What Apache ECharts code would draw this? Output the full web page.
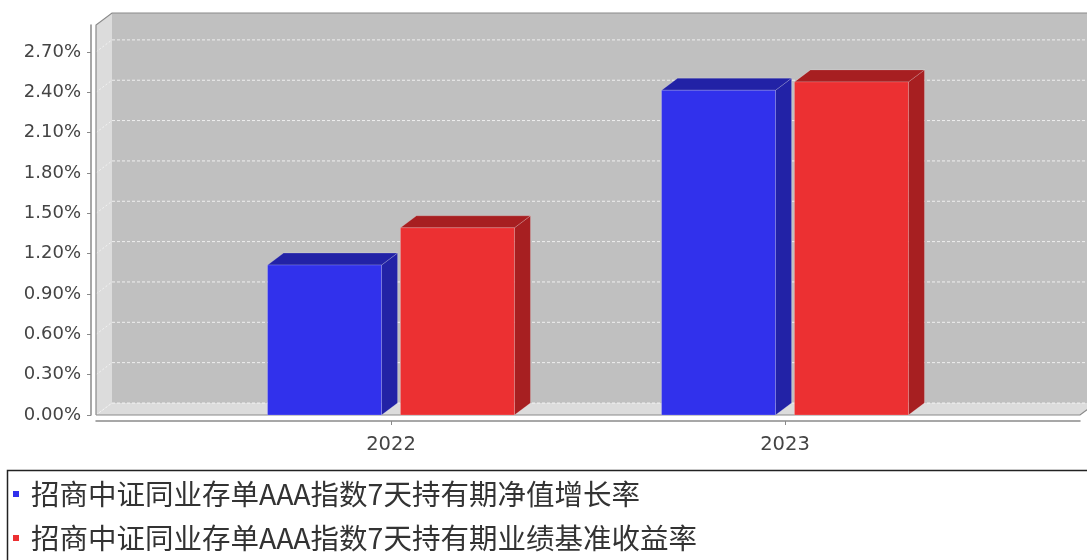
<!DOCTYPE html>
<html><head><meta charset="utf-8">
<script src="https://cdn.jsdelivr.net/npm/echarts@6/dist/echarts.min.js"></script>
<style>html,body{margin:0;padding:0;background:#fff}#c{width:1087px;height:560px}</style>
</head><body><div id="c"></div>
<script>
const categories = ['2022', '2023'];
const seriesNames = ['招商中证同业存单AAA指数7天持有期净值增长率', '招商中证同业存单AAA指数7天持有期业绩基准收益率'];
const navGrowth = [1.115, 2.415];
const benchmark = [1.392, 2.477];
const yTicks = [0, 0.3, 0.6, 0.9, 1.2, 1.5, 1.8, 2.1, 2.4, 2.7];
const yMax = 2.9;

const DX = 16, DY = 12;
const faceColors = [
  { front: '#3131EC', dark: '#2222A6' },
  { front: '#EC3032', dark: '#A71F21' }
];

function renderWalls(params, api) {
  const p00 = api.coord([0, 0]), p0m = api.coord([0, yMax]), p10 = api.coord([1, 0]);
  const L = p00[0], R = p10[0], B = p00[1], T = p0m[1];
  const ch = [];
  ch.push({ type: 'rect', shape: { x: L + DX, y: T - DY, width: R - L + 40, height: B - T }, style: { fill: '#C0C0C0' } });
  ch.push({ type: 'polygon', shape: { points: [[L, B], [L, T], [L + DX, T - DY], [L + DX, B - DY]] }, style: { fill: '#DCDCDC' } });
  ch.push({ type: 'polygon', shape: { points: [[L, B], [R, B], [R + DX, B - DY], [L + DX, B - DY]] }, style: { fill: '#DCDCDC' } });
  yTicks.forEach(v => {
    const y = api.coord([0, v])[1];
    ch.push({ type: 'line', shape: { x1: L + DX, y1: y - DY, x2: R + DX + 40, y2: y - DY }, style: { stroke: 'rgba(255,255,255,0.75)', lineWidth: 1, lineDash: [3, 2] } });
    ch.push({ type: 'line', shape: { x1: L, y1: y, x2: L + DX, y2: y - DY }, style: { stroke: 'rgba(255,255,255,0.6)', lineWidth: 1, lineDash: [2, 2] } });
  });
  ch.push({ type: 'polyline', shape: { points: [[L, B], [L, T], [L + DX, T - DY], [R + DX + 40, T - DY]] }, style: { stroke: '#8A8A8A', lineWidth: 1.2, fill: null } });
  ch.push({ type: 'polyline', shape: { points: [[L, B], [R, B], [R + DX, B - DY]] }, style: { stroke: '#8A8A8A', lineWidth: 1.2, fill: null } });
  return { type: 'group', children: ch };
}

function makeBarRender(sIdx) {
  return function (params, api) {
    const ci = api.value(0), val = api.value(1);
    const top = api.coord([ci, val]);
    const base = api.coord([ci, 0]);
    const band = api.size([1, 0])[0];
    const bw = band * 0.2893, gap = band * 0.048;
    const groupW = 2 * bw + gap;
    const x0 = top[0] - groupW / 2 + sIdx * (bw + gap);
    const yT = top[1], yB = base[1];
    const c = faceColors[sIdx];
    const edge = 'rgba(255,255,255,0.18)';
    return {
      type: 'group', children: [
        { type: 'polygon', shape: { points: [[x0 + bw, yT], [x0 + bw + DX, yT - DY], [x0 + bw + DX, yB - DY], [x0 + bw, yB]] }, style: { fill: c.dark, stroke: edge, lineWidth: 1 } },
        { type: 'polygon', shape: { points: [[x0, yT], [x0 + bw, yT], [x0 + bw + DX, yT - DY], [x0 + DX, yT - DY]] }, style: { fill: c.dark, stroke: edge, lineWidth: 1 } },
        { type: 'rect', shape: { x: x0, y: yT, width: bw, height: yB - yT }, style: { fill: c.front, stroke: edge, lineWidth: 1 } }
      ]
    };
  };
}

const chart = echarts.init(document.getElementById('c'), null, { renderer: 'canvas' });
const labelFont = { fontFamily: 'DejaVu Sans', fontSize: 18, color: '#444' };
chart.setOption({
  backgroundColor: '#ffffff',
  animation: false,
  grid: [
    { left: 96, right: 7, top: 25, bottom: 145 },
    { left: 194, right: 105, top: 25, bottom: 145 }
  ],
  xAxis: [
    { type: 'value', gridIndex: 0, min: 0, max: 1, offset: 6, z: 10,
      axisLine: { show: true, onZero: false, lineStyle: { color: '#8A8A8A', width: 1.5 } },
      axisTick: { show: false }, axisLabel: { show: false }, splitLine: { show: false } },
    { type: 'category', gridIndex: 1, data: categories, offset: 6, boundaryGap: true, z: 10,
      axisLine: { show: false, onZero: false },
      axisTick: { show: true, alignWithLabel: true, length: 4, lineStyle: { color: '#8A8A8A' } },
      axisLabel: { margin: 14, fontFamily: 'DejaVu Sans', fontSize: 19.5, color: '#444' }, splitLine: { show: false } }
  ],
  yAxis: [
    { type: 'value', gridIndex: 0, min: 0, max: yMax, interval: 0.3, offset: 5, z: 10,
      axisLine: { show: true, onZero: false, lineStyle: { color: '#8A8A8A', width: 1.5 } },
      axisTick: { show: true, length: 4, customValues: yTicks, lineStyle: { color: '#8A8A8A' } },
      axisLabel: Object.assign({ margin: 10, customValues: yTicks, formatter: v => v.toFixed(2) + '%' }, labelFont),
      splitLine: { show: false } },
    { type: 'value', gridIndex: 1, min: 0, max: yMax, interval: 0.3, show: false, axisLine: { onZero: false }, splitLine: { show: false } }
  ],
  legend: {
    data: seriesNames, orient: 'vertical', left: 13, top: 477, padding: 0,
    itemWidth: 6, itemHeight: 6, icon: 'rect', itemGap: 10, selectedMode: false,
    textStyle: { fontFamily: 'Noto Sans CJK SC', fontSize: 28.5, color: '#333', lineHeight: 34, padding: [0, 0, 0, 7] }
  },
  graphic: [
    { type: 'rect', shape: { x: 7.5, y: 470.5, width: 1100, height: 100 }, style: { fill: null, stroke: '#222', lineWidth: 1.5 }, silent: true }
  ],
  series: [
    { type: 'custom', name: '_walls', xAxisIndex: 0, yAxisIndex: 0, z: 1, silent: true, clip: false,
      renderItem: renderWalls, data: [[0, 0]] },
    { type: 'custom', name: seriesNames[0], xAxisIndex: 1, yAxisIndex: 1, z: 3, clip: false,
      itemStyle: { color: faceColors[0].front }, encode: { x: 0, y: 1 },
      renderItem: makeBarRender(0), data: categories.map((c, i) => [i, navGrowth[i]]) },
    { type: 'custom', name: seriesNames[1], xAxisIndex: 1, yAxisIndex: 1, z: 3, clip: false,
      itemStyle: { color: faceColors[1].front }, encode: { x: 0, y: 1 },
      renderItem: makeBarRender(1), data: categories.map((c, i) => [i, benchmark[i]]) }
  ]
});
</script>
</body></html>
